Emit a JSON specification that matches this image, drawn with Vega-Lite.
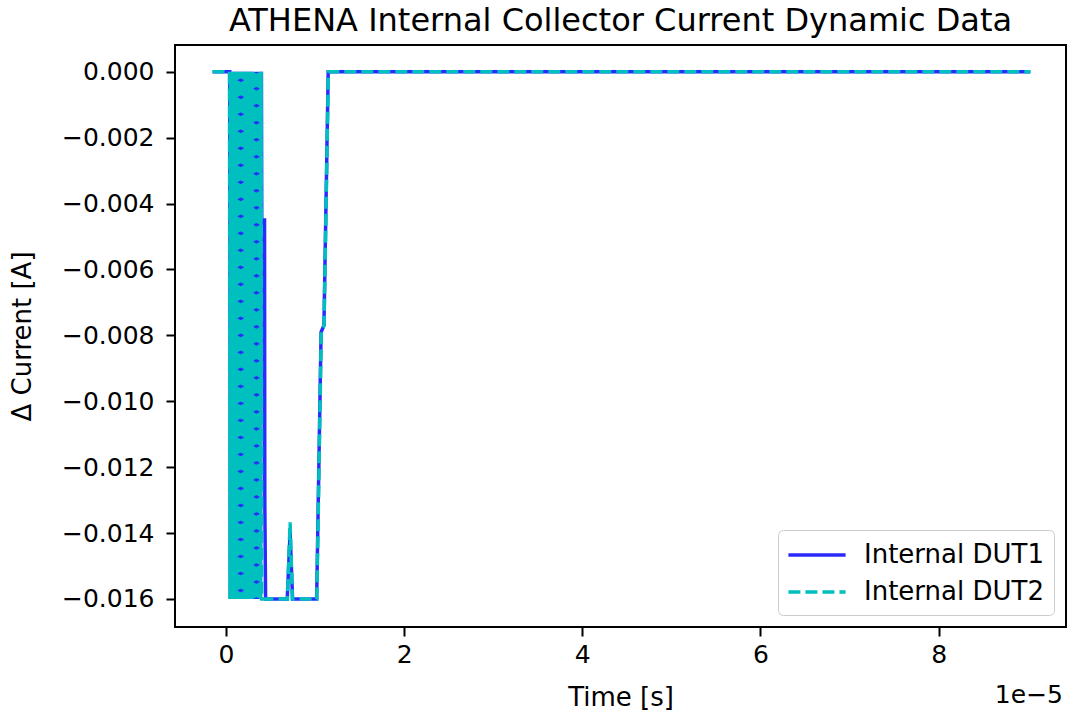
{
  "$schema": "https://vega.github.io/schema/vega-lite/v6.json",
  "width": 891,
  "height": 582,
  "autosize": "none",
  "padding": {"left": 175, "top": 45, "right": 2, "bottom": 90},
  "background": "white",
  "config": {
    "font": "DejaVu Sans",
    "view": {"stroke": "black", "strokeWidth": 2}
  },
  "title": {
    "text": "ATHENA Internal Collector Current Dynamic Data",
    "fontSize": 32,
    "fontWeight": "normal",
    "color": "black",
    "anchor": "middle",
    "offset": 7
  },
  "data": {
    "values": [
      {"time": -1.5e-6, "current": 0, "series": "Internal DUT1"},
      {"time": 4.2e-7, "current": 0, "series": "Internal DUT1"},
      {"time": 5.0e-7, "current": -0.016, "series": "Internal DUT1"},
      {"time": 6.2e-7, "current": 0, "series": "Internal DUT1"},
      {"time": 7.3e-7, "current": -0.016, "series": "Internal DUT1"},
      {"time": 8.5e-7, "current": 0, "series": "Internal DUT1"},
      {"time": 9.6e-7, "current": -0.016, "series": "Internal DUT1"},
      {"time": 1.07e-6, "current": 0, "series": "Internal DUT1"},
      {"time": 1.18e-6, "current": -0.016, "series": "Internal DUT1"},
      {"time": 1.30e-6, "current": 0, "series": "Internal DUT1"},
      {"time": 1.41e-6, "current": -0.016, "series": "Internal DUT1"},
      {"time": 1.52e-6, "current": 0, "series": "Internal DUT1"},
      {"time": 1.63e-6, "current": -0.016, "series": "Internal DUT1"},
      {"time": 1.74e-6, "current": 0, "series": "Internal DUT1"},
      {"time": 1.86e-6, "current": -0.016, "series": "Internal DUT1"},
      {"time": 1.97e-6, "current": 0, "series": "Internal DUT1"},
      {"time": 2.08e-6, "current": -0.016, "series": "Internal DUT1"},
      {"time": 2.19e-6, "current": 0, "series": "Internal DUT1"},
      {"time": 2.30e-6, "current": -0.016, "series": "Internal DUT1"},
      {"time": 2.41e-6, "current": 0, "series": "Internal DUT1"},
      {"time": 2.52e-6, "current": -0.016, "series": "Internal DUT1"},
      {"time": 2.64e-6, "current": 0, "series": "Internal DUT1"},
      {"time": 2.75e-6, "current": -0.016, "series": "Internal DUT1"},
      {"time": 2.86e-6, "current": 0, "series": "Internal DUT1"},
      {"time": 2.97e-6, "current": -0.016, "series": "Internal DUT1"},
      {"time": 3.08e-6, "current": 0, "series": "Internal DUT1"},
      {"time": 3.19e-6, "current": -0.016, "series": "Internal DUT1"},
      {"time": 3.31e-6, "current": 0, "series": "Internal DUT1"},
      {"time": 3.42e-6, "current": -0.016, "series": "Internal DUT1"},
      {"time": 3.53e-6, "current": 0, "series": "Internal DUT1"},
      {"time": 3.64e-6, "current": -0.016, "series": "Internal DUT1"},
      {"time": 3.75e-6, "current": 0, "series": "Internal DUT1"},
      {"time": 3.86e-6, "current": -0.016, "series": "Internal DUT1"},
      {"time": 3.98e-6, "current": 0, "series": "Internal DUT1"},
      {"time": 4.02e-6, "current": -0.0045, "series": "Internal DUT1"},
      {"time": 4.33e-6, "current": -0.0045, "series": "Internal DUT1"},
      {"time": 4.36e-6, "current": -0.013, "series": "Internal DUT1"},
      {"time": 4.45e-6, "current": -0.016, "series": "Internal DUT1"},
      {"time": 6.88e-6, "current": -0.016, "series": "Internal DUT1"},
      {"time": 7.20e-6, "current": -0.01398, "series": "Internal DUT1"},
      {"time": 7.48e-6, "current": -0.016, "series": "Internal DUT1"},
      {"time": 1.018e-5, "current": -0.016, "series": "Internal DUT1"},
      {"time": 1.068e-5, "current": -0.0079, "series": "Internal DUT1"},
      {"time": 1.100e-5, "current": -0.0077, "series": "Internal DUT1"},
      {"time": 1.148e-5, "current": 0, "series": "Internal DUT1"},
      {"time": 9.03e-5, "current": 0, "series": "Internal DUT1"},

      {"time": -1.5e-6, "current": 0, "series": "Internal DUT2"},
      {"time": 4.0e-7, "current": 0, "series": "Internal DUT2"},
      {"time": 4.5e-7, "current": -0.016, "series": "Internal DUT2"},
      {"time": 5.1e-7, "current": 0, "series": "Internal DUT2"},
      {"time": 5.7e-7, "current": -0.016, "series": "Internal DUT2"},
      {"time": 6.3e-7, "current": 0, "series": "Internal DUT2"},
      {"time": 6.9e-7, "current": -0.016, "series": "Internal DUT2"},
      {"time": 7.5e-7, "current": 0, "series": "Internal DUT2"},
      {"time": 8.2e-7, "current": -0.016, "series": "Internal DUT2"},
      {"time": 8.8e-7, "current": 0, "series": "Internal DUT2"},
      {"time": 9.4e-7, "current": -0.016, "series": "Internal DUT2"},
      {"time": 1.00e-6, "current": 0, "series": "Internal DUT2"},
      {"time": 1.06e-6, "current": -0.016, "series": "Internal DUT2"},
      {"time": 1.12e-6, "current": 0, "series": "Internal DUT2"},
      {"time": 1.18e-6, "current": -0.016, "series": "Internal DUT2"},
      {"time": 1.25e-6, "current": 0, "series": "Internal DUT2"},
      {"time": 1.31e-6, "current": -0.016, "series": "Internal DUT2"},
      {"time": 1.37e-6, "current": 0, "series": "Internal DUT2"},
      {"time": 1.43e-6, "current": -0.016, "series": "Internal DUT2"},
      {"time": 1.49e-6, "current": 0, "series": "Internal DUT2"},
      {"time": 1.55e-6, "current": -0.016, "series": "Internal DUT2"},
      {"time": 1.61e-6, "current": 0, "series": "Internal DUT2"},
      {"time": 1.68e-6, "current": -0.016, "series": "Internal DUT2"},
      {"time": 1.74e-6, "current": 0, "series": "Internal DUT2"},
      {"time": 1.80e-6, "current": -0.016, "series": "Internal DUT2"},
      {"time": 1.86e-6, "current": 0, "series": "Internal DUT2"},
      {"time": 1.92e-6, "current": -0.016, "series": "Internal DUT2"},
      {"time": 1.98e-6, "current": 0, "series": "Internal DUT2"},
      {"time": 2.04e-6, "current": -0.016, "series": "Internal DUT2"},
      {"time": 2.11e-6, "current": 0, "series": "Internal DUT2"},
      {"time": 2.17e-6, "current": -0.016, "series": "Internal DUT2"},
      {"time": 2.23e-6, "current": 0, "series": "Internal DUT2"},
      {"time": 2.29e-6, "current": -0.016, "series": "Internal DUT2"},
      {"time": 2.35e-6, "current": 0, "series": "Internal DUT2"},
      {"time": 2.41e-6, "current": -0.016, "series": "Internal DUT2"},
      {"time": 2.47e-6, "current": 0, "series": "Internal DUT2"},
      {"time": 2.54e-6, "current": -0.016, "series": "Internal DUT2"},
      {"time": 2.60e-6, "current": 0, "series": "Internal DUT2"},
      {"time": 2.66e-6, "current": -0.016, "series": "Internal DUT2"},
      {"time": 2.72e-6, "current": 0, "series": "Internal DUT2"},
      {"time": 2.78e-6, "current": -0.016, "series": "Internal DUT2"},
      {"time": 2.84e-6, "current": 0, "series": "Internal DUT2"},
      {"time": 2.90e-6, "current": -0.016, "series": "Internal DUT2"},
      {"time": 2.97e-6, "current": 0, "series": "Internal DUT2"},
      {"time": 3.03e-6, "current": -0.016, "series": "Internal DUT2"},
      {"time": 3.09e-6, "current": 0, "series": "Internal DUT2"},
      {"time": 3.15e-6, "current": -0.016, "series": "Internal DUT2"},
      {"time": 3.21e-6, "current": 0, "series": "Internal DUT2"},
      {"time": 3.27e-6, "current": -0.016, "series": "Internal DUT2"},
      {"time": 3.33e-6, "current": 0, "series": "Internal DUT2"},
      {"time": 3.40e-6, "current": -0.016, "series": "Internal DUT2"},
      {"time": 3.46e-6, "current": 0, "series": "Internal DUT2"},
      {"time": 3.52e-6, "current": -0.016, "series": "Internal DUT2"},
      {"time": 3.58e-6, "current": 0, "series": "Internal DUT2"},
      {"time": 3.64e-6, "current": -0.016, "series": "Internal DUT2"},
      {"time": 3.70e-6, "current": 0, "series": "Internal DUT2"},
      {"time": 3.76e-6, "current": -0.016, "series": "Internal DUT2"},
      {"time": 3.83e-6, "current": 0, "series": "Internal DUT2"},
      {"time": 3.89e-6, "current": -0.016, "series": "Internal DUT2"},
      {"time": 3.95e-6, "current": 0, "series": "Internal DUT2"},
      {"time": 4.01e-6, "current": -0.016, "series": "Internal DUT2"},
      {"time": 6.90e-6, "current": -0.016, "series": "Internal DUT2"},
      {"time": 7.20e-6, "current": -0.01367, "series": "Internal DUT2"},
      {"time": 7.45e-6, "current": -0.016, "series": "Internal DUT2"},
      {"time": 1.020e-5, "current": -0.016, "series": "Internal DUT2"},
      {"time": 1.070e-5, "current": -0.0079, "series": "Internal DUT2"},
      {"time": 1.101e-5, "current": -0.0077, "series": "Internal DUT2"},
      {"time": 1.150e-5, "current": 0, "series": "Internal DUT2"},
      {"time": 9.03e-5, "current": 0, "series": "Internal DUT2"}
    ]
  },
  "layer": [
    {
      "mark": {"type": "line", "strokeWidth": 3.5, "clip": true},
      "encoding": {
        "x": {
          "field": "time",
          "type": "quantitative",
          "scale": {"domain": [-5.72e-6, 9.43e-5], "nice": false, "zero": false},
          "axis": {
            "title": "Time [s]",
            "values": [0, 2e-5, 4e-5, 6e-5, 8e-5],
            "labelExpr": "format(datum.value * 1e5, '.0f')",
            "grid": false,
            "domain": false,
            "ticks": true,
            "tickColor": "black",
            "tickWidth": 2,
            "tickSize": 9,
            "labelFontSize": 25,
            "labelColor": "black",
            "labelPadding": 6,
            "labelFlush": false,
            "titleFontSize": 26,
            "titleFontWeight": "normal",
            "titleColor": "black",
            "titlePadding": 17
          }
        },
        "y": {
          "field": "current",
          "type": "quantitative",
          "scale": {"domain": [-0.01685, 0.00081], "nice": false, "zero": false},
          "axis": {
            "title": "Δ Current [A]",
            "values": [-0.016, -0.014, -0.012, -0.01, -0.008, -0.006, -0.004, -0.002, 0],
            "format": ".3f",
            "grid": false,
            "domain": false,
            "tickColor": "black",
            "tickWidth": 2,
            "tickSize": 9,
            "labelFontSize": 25,
            "labelColor": "black",
            "labelPadding": 12,
            "labelFlush": false,
            "titleFontSize": 26,
            "titleFontWeight": "normal",
            "titleColor": "black",
            "titlePadding": 26
          }
        },
        "color": {
          "field": "series",
          "type": "nominal",
          "scale": {"domain": ["Internal DUT1", "Internal DUT2"], "range": ["#2a2aff", "#00bfbf"]},
          "legend": {
            "title": null,
            "orient": "bottom-right",
            "offset": 12,
            "labelFontSize": 26,
            "labelColor": "black",
            "labelOffset": 32,
            "labelLimit": 400,
            "symbolType": "M-2.2,0H2.2",
            "symbolSize": 676,
            "symbolOffset": 14,
            "symbolStrokeWidth": 3.5,
            "strokeColor": "#cccccc",
            "fillColor": "white",
            "cornerRadius": 5,
            "padding": 10,
            "rowPadding": 9
          }
        },
        "strokeDash": {
          "field": "series",
          "type": "nominal",
          "scale": {"domain": ["Internal DUT1", "Internal DUT2"], "range": [[1, 0], [12, 5]]},
          "legend": {
            "title": null,
            "orient": "bottom-right",
            "offset": 12,
            "labelFontSize": 26,
            "labelColor": "black",
            "labelOffset": 32,
            "labelLimit": 400,
            "symbolType": "M-2.2,0H2.2",
            "symbolSize": 676,
            "symbolOffset": 14,
            "symbolStrokeWidth": 3.5,
            "strokeColor": "#cccccc",
            "fillColor": "white",
            "cornerRadius": 5,
            "padding": 10,
            "rowPadding": 9
          }
        }
      }
    },
    {
      "data": {"values": [{"label": "1e−5"}]},
      "mark": {"type": "text", "fontSize": 25, "color": "black", "align": "right", "baseline": "alphabetic", "dy": 76, "dx": -3},
      "encoding": {
        "text": {"field": "label"},
        "x": {"datum": 9.43e-5, "type": "quantitative"},
        "y": {"datum": -0.01685, "type": "quantitative"}
      }
    }
  ]
}
